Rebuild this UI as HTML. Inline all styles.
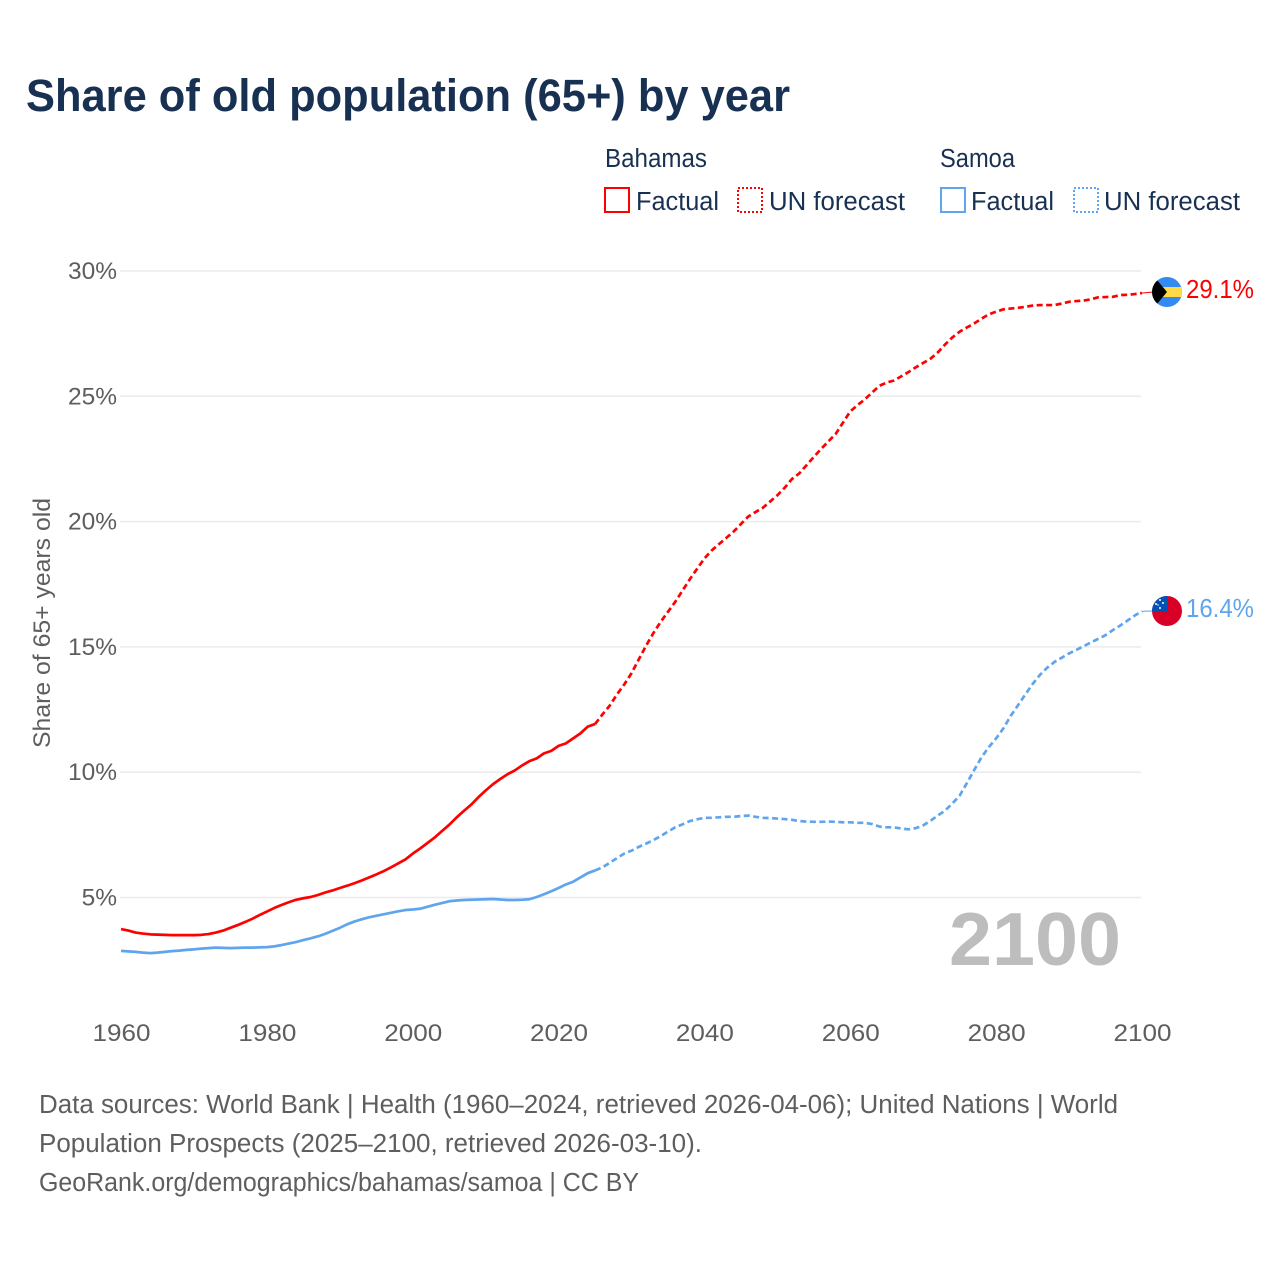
<!DOCTYPE html>
<html lang="en">
<head>
<meta charset="utf-8">
<title>Share of old population (65+) by year</title>
<style>
html,body{margin:0;padding:0;background:#fff}
svg{display:block}
text{font-family:"Liberation Sans",sans-serif}
</style>
</head>
<body>
<svg id="chart" xmlns="http://www.w3.org/2000/svg" width="1280" height="1280" viewBox="0 0 1280 1280">
  <defs>
    <clipPath id="flagClipA"><circle cx="1167" cy="292" r="15"/></clipPath>
    <clipPath id="flagClipB"><circle cx="1167" cy="611" r="15"/></clipPath>
  </defs>
  <rect width="1280" height="1280" fill="#fff"/>
  <text x="26" y="111" font-size="45" font-weight="700" fill="#183153" textLength="764" lengthAdjust="spacingAndGlyphs">Share of old population (65+) by year</text>

  <g fill="#183153" font-size="25.5">
    <text x="605" y="167" textLength="102" lengthAdjust="spacingAndGlyphs">Bahamas</text>
    <rect x="605" y="188" width="24" height="24" fill="none" stroke="#ff0000" stroke-width="2"/>
    <text x="636" y="210" textLength="83" lengthAdjust="spacingAndGlyphs">Factual</text>
    <rect x="738" y="188" width="24" height="24" fill="none" stroke="#ff0000" stroke-width="2" stroke-dasharray="2 2"/>
    <text x="769" y="210" textLength="136" lengthAdjust="spacingAndGlyphs">UN forecast</text>
    <text x="940" y="167" textLength="75" lengthAdjust="spacingAndGlyphs">Samoa</text>
    <rect x="941" y="188" width="24" height="24" fill="none" stroke="#5fa5ee" stroke-width="2"/>
    <text x="971" y="210" textLength="83" lengthAdjust="spacingAndGlyphs">Factual</text>
    <rect x="1074" y="188" width="24" height="24" fill="none" stroke="#5fa5ee" stroke-width="2" stroke-dasharray="2 2"/>
    <text x="1104" y="210" textLength="136" lengthAdjust="spacingAndGlyphs">UN forecast</text>
  </g>

  <g id="grid"></g>
  <g id="yTicks"></g>
  <g id="xTicks"></g>
  <text transform="translate(50 623) rotate(-90)" text-anchor="middle" font-size="24.500" fill="#5e5e5e" textLength="250" lengthAdjust="spacingAndGlyphs">Share of 65+ years old</text>
  <text x="949" y="965" font-size="75" font-weight="700" fill="#bdbdbd" textLength="172" lengthAdjust="spacingAndGlyphs">2100</text>

  <g id="series"></g>

  <g clip-path="url(#flagClipA)">
    <rect x="1152" y="277" width="30" height="30" fill="#338af3"/>
    <rect x="1152" y="287" width="30" height="10" fill="#ffda44"/>
    <polygon points="1150,271.600 1167,292 1150,312.400" fill="#000"/>
  </g>
  <text x="1186" y="298" font-size="25.5" fill="#ff0000" textLength="68" lengthAdjust="spacingAndGlyphs">29.1%</text>

  <g clip-path="url(#flagClipB)">
    <rect x="1152" y="596" width="30" height="30" fill="#d80027"/>
    <rect x="1152" y="596" width="15" height="15" fill="#0052b4"/>
    <g fill="#fff">
      <circle cx="1160" cy="600" r="1"/><circle cx="1156" cy="604" r="1"/><circle cx="1163" cy="603" r="1"/><circle cx="1160" cy="608" r="1"/><circle cx="1158" cy="605" r="0.700"/>
    </g>
  </g>
  <text x="1186" y="617" font-size="25.5" fill="#5fa5ee" textLength="68" lengthAdjust="spacingAndGlyphs">16.4%</text>

  <g font-size="25.500" fill="#5e5e5e">
    <text x="39" y="1113" textLength="1079" lengthAdjust="spacingAndGlyphs">Data sources: World Bank | Health (1960–2024, retrieved 2026-04-06); United Nations | World</text>
    <text x="39" y="1152" textLength="663" lengthAdjust="spacingAndGlyphs">Population Prospects (2025–2100, retrieved 2026-03-10).</text>
    <text x="39" y="1191" textLength="600" lengthAdjust="spacingAndGlyphs">GeoRank.org/demographics/bahamas/samoa | CC BY</text>
  </g>
</svg>
<script>
const xTickYears = [1960, 1980, 2000, 2020, 2040, 2060, 2080, 2100];
const yTickValues = [5, 10, 15, 20, 25, 30];
const factualStartYear = 1960;
const forecastStartYear = 2025;
const bahamasFactual = [3.74,3.68,3.6,3.56,3.53,3.52,3.51,3.5,3.5,3.5,
  3.5,3.51,3.54,3.6,3.68,3.79,3.9,4.02,4.15,4.3,
  4.44,4.58,4.7,4.81,4.91,4.97,5.02,5.1,5.2,5.28,
  5.38,5.47,5.57,5.68,5.8,5.92,6.05,6.2,6.36,6.52,
  6.75,6.95,7.17,7.39,7.65,7.9,8.19,8.45,8.7,9.0,
  9.27,9.52,9.73,9.92,10.07,10.27,10.44,10.55,10.75,10.85,
  11.05,11.15,11.35,11.55,11.82,11.92];
const bahamasForecast = [11.92,12.3,12.65,13.1,13.5,
  13.95,14.5,15.05,15.55,16.0,16.4,16.8,17.25,17.7,18.12,
  18.53,18.85,19.1,19.35,19.6,19.9,20.2,20.38,20.55,20.8,
  21.05,21.35,21.7,21.92,22.25,22.58,22.9,23.2,23.5,23.95,
  24.4,24.65,24.88,25.15,25.42,25.55,25.63,25.8,25.97,26.16,
  26.33,26.5,26.75,27.07,27.35,27.58,27.75,27.91,28.1,28.27,
  28.38,28.47,28.5,28.53,28.57,28.62,28.64,28.64,28.64,28.7,
  28.77,28.8,28.82,28.87,28.95,28.96,28.97,29.04,29.05,29.08,29.12];
const samoaFactual = [2.87,2.85,2.83,2.8,2.78,2.8,2.83,2.86,2.88,2.91,
  2.93,2.96,2.98,3.0,2.99,2.98,2.99,3.0,3.0,3.01,
  3.02,3.05,3.1,3.16,3.22,3.3,3.37,3.45,3.55,3.67,
  3.79,3.93,4.04,4.13,4.21,4.27,4.33,4.39,4.45,4.5,
  4.52,4.55,4.63,4.71,4.78,4.85,4.88,4.9,4.91,4.92,
  4.93,4.94,4.92,4.9,4.9,4.91,4.93,5.02,5.13,5.25,
  5.38,5.52,5.63,5.8,5.97,6.08];
const samoaForecast = [6.08,6.2,6.38,6.57,6.75,
  6.87,7.02,7.15,7.29,7.45,7.63,7.8,7.92,8.05,8.12,
  8.18,8.18,8.2,8.22,8.22,8.25,8.27,8.22,8.18,8.17,
  8.15,8.13,8.1,8.05,8.03,8.02,8.02,8.03,8.02,8.0,
  8.0,7.98,7.98,7.93,7.83,7.8,7.8,7.75,7.72,7.77,
  7.88,8.06,8.27,8.47,8.75,9.07,9.57,10.09,10.6,11.0,
  11.35,11.75,12.25,12.67,13.1,13.52,13.88,14.17,14.4,14.57,
  14.74,14.88,15.03,15.18,15.32,15.47,15.67,15.85,16.05,16.25,16.42];

const NS = 'http://www.w3.org/2000/svg';
function xScale(year) { return 121 + (year - 1960) * (1021 / 140); }
function yScale(value) { return 897.5 - (value - 5) * (626.5 / 25); }
function make(tag, attrs, parent, content) {
  const el = document.createElementNS(NS, tag);
  for (const k in attrs) el.setAttribute(k, attrs[k]);
  if (content !== undefined) el.textContent = content;
  parent.appendChild(el);
  return el;
}
const gridGroup = document.getElementById('grid');
const yGroup = document.getElementById('yTicks');
const xGroup = document.getElementById('xTicks');
const seriesGroup = document.getElementById('series');

yTickValues.forEach(function (v) {
  const line = make('line', {x1: 120, x2: 1141, y1: yScale(v), y2: yScale(v), stroke: '#ebebeb', 'stroke-width': 1.5}, gridGroup);
  
  
  const label = make('text', {x: 117, y: yScale(v) + 8, 'text-anchor': 'end', 'font-size': 24.5, fill: '#5e5e5e'}, yGroup, v + '%');
  
  
});
xTickYears.forEach(function (y) {
  const label = make('text', {x: xScale(y) + 0.5, y: 1041, 'text-anchor': 'middle', 'font-size': 24.5, fill: '#5e5e5e', textLength: 58, lengthAdjust: 'spacingAndGlyphs'}, xGroup, String(y));
  
  
});
function pathFrom(values, startYear) {
  return values.map(function (v, i) {
    return (i ? 'L' : 'M') + xScale(startYear + i).toFixed(2) + ' ' + yScale(v).toFixed(2);
  }).join(' ');
}
function drawLine(values, startYear, color, dash, name) {
  const p = make('path', {d: pathFrom(values, startYear), fill: 'none', stroke: color, 'stroke-width': 2.7, 'stroke-linejoin': 'round'}, seriesGroup);
  if (dash) p.setAttribute('stroke-dasharray', dash);
  
  
}
drawLine(samoaFactual, factualStartYear, '#5fa5ee', null, 'line-samoa-factual');
drawLine(samoaForecast, forecastStartYear, '#5fa5ee', '6 3.5', 'line-samoa-forecast');
drawLine(bahamasFactual, factualStartYear, '#ff0000', null, 'line-bahamas-factual');
drawLine(bahamasForecast, forecastStartYear, '#ff0000', '6 3.5', 'line-bahamas-forecast');

const lastBahamas = bahamasForecast[bahamasForecast.length - 1];
const lastSamoa = samoaForecast[samoaForecast.length - 1];
const connectorA = make('line', {x1: xScale(2100), x2: 1153, y1: yScale(lastBahamas), y2: 292, stroke: '#ff0000', 'stroke-width': 1}, seriesGroup);


const connectorB = make('line', {x1: xScale(2100), x2: 1153, y1: yScale(lastSamoa), y2: 611, stroke: '#5fa5ee', 'stroke-width': 1}, seriesGroup);


</script>
</body>
</html>
